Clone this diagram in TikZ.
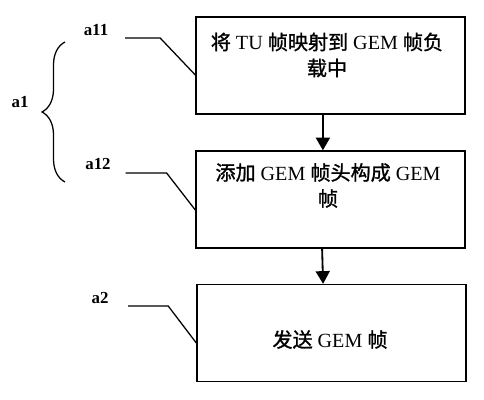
\documentclass[tikz,border=0pt]{standalone}
\usepackage{fontspec}
\setmainfont{Liberation Serif}
\newfontfamily\cjk[AutoFakeBold=1.2]{Noto Sans CJK SC}
\newcommand{\zh}[1]{{\cjk\bfseries #1}}
\usetikzlibrary{arrows.meta, decorations.pathreplacing}

\begin{document}
\begin{tikzpicture}
        \useasboundingbox (0,0) rectangle (12.1,10);
        \tikzset{
            stepbox/.style={draw, line width=1pt, minimum width=6.725cm, minimum height=2.425cm},
            steptext/.style={align=center, font=\fontsize{14.3pt}{18.5pt}\selectfont},
            steplabel/.style={font=\fontsize{12pt}{14pt}\selectfont\bfseries},
            leader/.style={line width=0.9pt}
        }

        % boxes
        \node[stepbox] (b1) at (8.2625, 8.3625) {};
        \node[stepbox] (b2) at (8.2625, 5.0125) {};
        \node[stepbox] (b3) at (8.2875, 1.675) {};

        \node[steptext] (t1) at (8.175, 8.625) {\zh{将} TU \zh{帧映射到} GEM \zh{帧负}\\\zh{载中}};
        \node[steptext] (t2) at (8.2, 5.3625) {\zh{添加} GEM \zh{帧头构成} GEM\\\zh{帧}};
        \node[steptext] (t3) at (8.25, 1.5125) {\zh{发送} GEM \zh{帧}};

        \draw[line width=1.3pt, -{Triangle[width=10pt, length=9pt]}] ([xshift=-0.19cm]b1.south) -- ([xshift=-0.19cm]b2.north);
        \draw[line width=1.3pt, -{Triangle[width=10pt, length=9pt]}] ([xshift=-0.21cm]b2.south) -- ([xshift=-0.21cm]b3.north);

        % labels and leaders
        \node[steplabel] (a11) at (2.4, 9.25) {a11};
        \node[steplabel] (a12) at (2.45, 5.9) {a12};
        \node[steplabel] (a2) at (2.5, 2.55) {a2};
        \node[steplabel] (a1) at (0.5, 7.45) {a1};

        \draw[leader] ([xshift=0.3cm, yshift=-0.2cm]a11.east) -- ++(0.875,0) -- ([yshift=-0.2375cm]b1.west);
        \draw[leader] ([xshift=0.25cm, yshift=-0.225cm]a12.east) -- ++(1.025,0) -- ([yshift=-0.2625cm]b2.west);
        \draw[leader] ([xshift=0.37cm, yshift=-0.2cm]a2.east) -- ++(1,0) -- ([yshift=-0.25cm]b3.west);

        \draw[line width=0.9pt, decorate, decoration={brace, amplitude=0.575cm}] (1.625, 5.45) -- (1.625, 8.95);

    \end{tikzpicture}
\end{document}
